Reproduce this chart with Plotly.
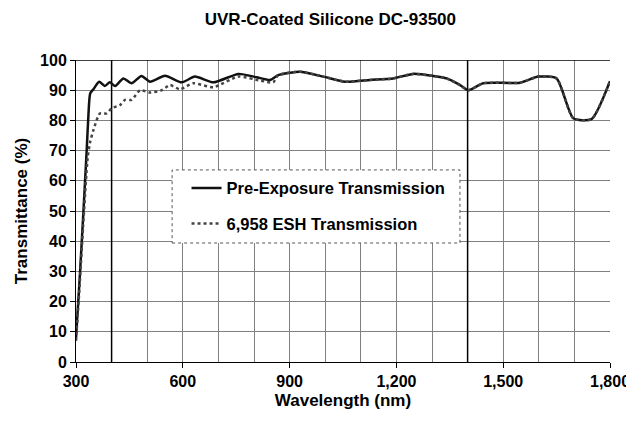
import plotly.graph_objects as go

title = "UVR-Coated Silicone DC-93500"
x_title = "Wavelength (nm)"
y_title = "Transmittance (%)"

pre_name = "Pre-Exposure Transmission"
pre_nm = [300, 310, 320, 330, 335, 340, 350, 365, 381, 395, 410, 433, 456, 484, 508,
          550, 597, 634, 686, 756, 807, 845, 868, 929, 995, 1056, 1126, 1191, 1247,
          1304, 1341, 1379, 1402, 1444, 1547, 1599, 1650, 1697, 1748, 1800]
pre_t = [8, 27, 48, 70, 82, 89, 90.5, 92.8, 91.4, 92.6, 91.4, 93.9, 92.3, 94.7, 92.8,
         94.8, 92.6, 94.5, 92.6, 95.4, 94.3, 93.4, 95.0, 96.1, 94.5, 92.8, 93.4, 93.9, 95.4,
         94.7, 93.9, 91.7, 90.0, 92.3, 92.5, 94.5, 93.9, 80.7, 80.4, 93.0]

esh_name = "6,958 ESH Transmission"
esh_nm = [300, 310, 320, 333, 340, 349, 367, 386, 400, 424, 438, 456, 480, 508, 541,
          564, 592, 629, 686, 756, 817, 854, 868, 929, 995, 1056, 1126, 1191, 1247,
          1304, 1341, 1379, 1402, 1444, 1547, 1599, 1650, 1697, 1748, 1800]
esh_t = [7, 25, 45, 68, 73, 76.8, 82.3, 82.3, 84.0, 85.1, 86.8, 86.8, 90.0, 89.2, 90.0,
         91.7, 90.3, 92.3, 91.0, 94.5, 93.2, 92.6, 95.0, 96.1, 94.5, 92.8, 93.4, 93.9, 95.4,
         94.7, 93.9, 91.7, 90.0, 92.3, 92.5, 94.5, 93.9, 80.7, 80.4, 93.0]

x_ticks = [300, 600, 900, 1200, 1500, 1800]
x_tick_labels = ["300", "600", "900", "1,200", "1,500", "1,800"]
y_ticks = list(range(0, 101, 10))
marker_nm = [400, 1400]

FONT = "Liberation Sans, Arial, sans-serif"

fig = go.Figure()
fig.add_trace(go.Scatter(
    x=pre_nm, y=pre_t, name=pre_name, mode="lines",
    line=dict(color="#111111", width=2.5, shape="spline", smoothing=0.6),
    legendgroup="a"))
fig.add_trace(go.Scatter(
    x=esh_nm, y=esh_t, name=esh_name, mode="lines",
    line=dict(color="#444444", width=2.5, dash="dot", shape="spline", smoothing=0.6),
    legendgroup="b"))

for xv in marker_nm:
    fig.add_shape(type="line", xref="x", yref="y", x0=xv, x1=xv, y0=0, y1=100,
                  line=dict(color="black", width=1.5), layer="between")
fig.add_shape(type="line", xref="x", yref="y", x0=300, x1=1800, y0=100, y1=100,
              line=dict(color="black", width=1.5), layer="between")

# legend box (dotted border)
fig.add_shape(type="rect", xref="paper", yref="paper",
              x0=0.18, x1=0.719, y0=0.394, y1=0.636,
              line=dict(color="#555555", width=1, dash="dot"),
              fillcolor="white", layer="above")

# the page body adds an 8px offset, so the figure is 8px smaller than the window
fig.update_layout(
    width=626, height=416,
    margin=dict(l=68, r=24, t=52, b=62),
    paper_bgcolor="white", plot_bgcolor="white",
    font=dict(family=FONT, size=16, color="black", weight="bold"),
    title=dict(text=title, x=0.515, xanchor="center", y=0.974, yanchor="middle",
               font=dict(family=FONT, size=17, color="black", weight="bold")),
    showlegend=True,
    legend=dict(x=0.207, y=0.633, xanchor="left", yanchor="top",
                bgcolor="rgba(0,0,0,0)", borderwidth=0,
                tracegroupgap=11, traceorder="grouped",
                font=dict(family=FONT, size=16.5, color="black", weight="bold")),
)
fig.update_xaxes(
    range=[300, 1800], tickvals=x_ticks, ticktext=x_tick_labels,
    showgrid=True, gridcolor="#808080", gridwidth=1,
    minor=dict(dtick=100, showgrid=True, gridcolor="#808080", gridwidth=1),
    showline=True, linecolor="black", linewidth=1,
    ticks="outside", ticklen=5, tickcolor="black",
    zeroline=False, automargin=False,
    title=dict(text=x_title, standoff=4,
               font=dict(family=FONT, size=17, color="black", weight="bold")),
    tickfont=dict(family=FONT, size=16, color="black", weight="bold"),
)
fig.update_yaxes(
    range=[0, 100], tickvals=y_ticks,
    showgrid=True, gridcolor="#808080", gridwidth=1,
    showline=True, linecolor="black", linewidth=1,
    ticks="outside", ticklen=5, tickcolor="black",
    zeroline=False, automargin=False,
    title=dict(text=y_title, standoff=8,
               font=dict(family=FONT, size=17, color="black", weight="bold")),
    tickfont=dict(family=FONT, size=16, color="black", weight="bold"),
)

fig.write_html("out.html")
